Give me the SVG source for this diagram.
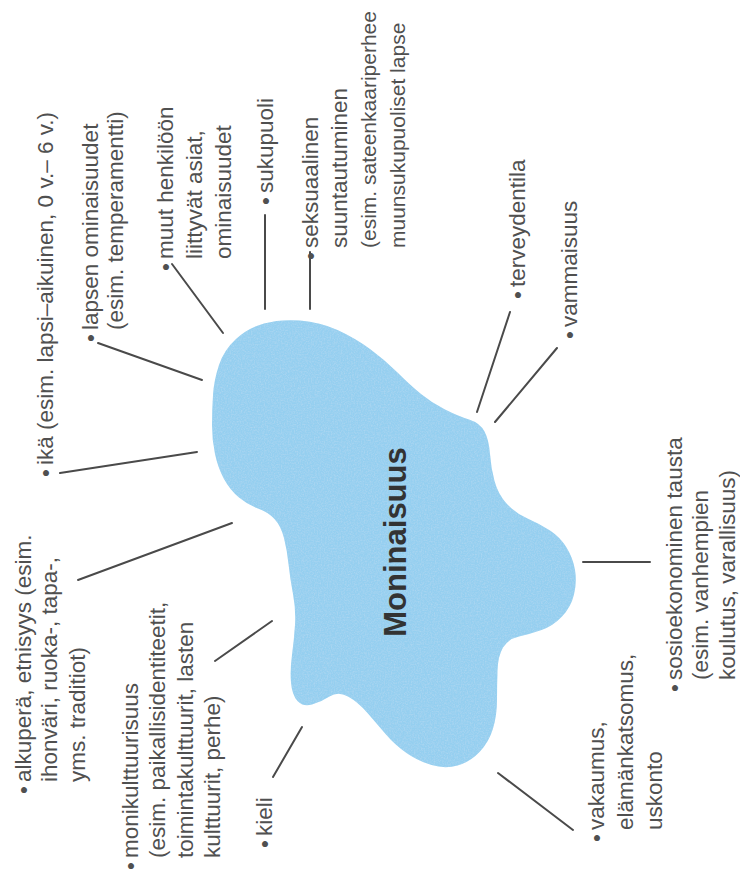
<svg xmlns="http://www.w3.org/2000/svg" width="740" height="882" viewBox="0 0 740 882">
<style>
  .t { font-family: "Liberation Sans", Arial, sans-serif; font-size: 22.5px; fill: #505050; }
  .sm { font-size: 21px; }
  .title { font-family: "Liberation Sans", Arial, sans-serif; font-size: 31px; font-weight: bold; fill: #333333; text-anchor: middle; }
  .conn line { stroke: #4a4a4a; stroke-width: 2; stroke-linecap: round; }
</style>
<defs>
  <filter id="tex" x="-5%" y="-5%" width="110%" height="110%">
    <feTurbulence type="fractalNoise" baseFrequency="0.7" numOctaves="2" seed="4" result="n"/>
    <feColorMatrix in="n" type="matrix" values="0 0 0 0 0.47  0 0 0 0 0.70  0 0 0 0 0.89  0 0 0 1.3 -0.5" result="c"/>
    <feComposite in="c" in2="SourceGraphic" operator="in" result="m"/>
    <feMerge><feMergeNode in="SourceGraphic"/><feMergeNode in="m"/></feMerge>
  </filter>
</defs>
<rect width="740" height="882" fill="#ffffff"/>

<g id="blob">
  <path filter="url(#tex)" fill="#95cff0" d="M264,323.5 Q280,319 300,320.5 Q320,322 337.5,330 Q355,338 370,349 Q385,360 397.5,372.5 Q410,385 421,394 Q432,403 445,409.5 Q458,416 469,419.5 Q480,423 484.5,431.5 Q489,440 490,454 Q491,468 494.5,481 Q498,494 506.5,503.5 Q515,513 527.5,518.5 Q540,524 550,530.5 Q560,537 566.5,547.5 Q573,558 575,570 Q577,582 574,594.5 Q571,607 562,616.5 Q553,626 541.5,630 Q530,634 519,636.5 Q508,639 503,647.5 Q498,656 497.5,670.5 Q497,685 497,700 Q497,715 493,728.5 Q489,742 479.5,752 Q470,762 457.5,765.5 Q445,769 431.5,765 Q418,761 406.5,753 Q395,745 386,734.5 Q377,724 367.5,713 Q358,702 348,696.5 Q338,691 329.5,696.5 Q321,702 312,704.5 Q303,707 297.5,701 Q292,695 291,682.5 Q290,670 292,655 Q294,640 295,625 Q296,610 293,594 Q290,578 288.5,564 Q287,550 284,538 Q281,526 274.5,519 Q268,512 258,508.5 Q248,505 239,497.5 Q230,490 224,479 Q218,468 215,454 Q212,440 212,425 Q212,410 213,395 Q214,380 219,365 Q224,350 236,339 Q248,328 264,323.5 Z"/>
  <text class="title" transform="translate(406,542) rotate(-90)">Moninaisuus</text>
</g>

<g id="connectors" class="conn">
  <line x1="60" y1="473" x2="197" y2="452"/>
  <line x1="98" y1="343" x2="202" y2="380"/>
  <line x1="172" y1="264" x2="223" y2="333"/>
  <line x1="265" y1="215" x2="265" y2="309"/>
  <line x1="310" y1="252" x2="310" y2="309"/>
  <line x1="78" y1="580" x2="232" y2="523"/>
  <line x1="215" y1="661" x2="272" y2="621"/>
  <line x1="273" y1="777" x2="302" y2="727"/>
  <line x1="498" y1="773" x2="573" y2="830"/>
  <line x1="583" y1="562" x2="650" y2="562"/>
  <line x1="510" y1="312" x2="477" y2="412"/>
  <line x1="557" y1="348" x2="495" y2="422"/>
</g>

<g id="n-ika"><text class="t" transform="translate(53,465) rotate(-90)"><tspan x="-12" y="0">•</tspan><tspan x="0" y="0">ikä (esim. lapsi–aikuinen, 0 v.– 6 v.)</tspan></text></g>
<g id="n-lapsen"><text class="t" transform="translate(98,330) rotate(-90)"><tspan x="-12" y="0">•</tspan><tspan x="0" y="0">lapsen ominaisuudet</tspan><tspan x="0" y="25">(esim. temperamentti)</tspan></text></g>
<g id="n-muut"><text class="t" transform="translate(173,259) rotate(-90)"><tspan x="-12" y="0">•</tspan><tspan x="0" y="0">muut henkilöön</tspan><tspan x="0" y="29">liittyvät asiat,</tspan><tspan x="0" y="58">ominaisuudet</tspan></text></g>
<g id="n-sukupuoli"><text class="t" transform="translate(273,193) rotate(-90)"><tspan x="-12" y="0">•</tspan><tspan x="0" y="0">sukupuoli</tspan></text></g>
<g id="n-seksuaalinen"><text class="t" transform="translate(318,248) rotate(-90)"><tspan x="-12" y="0">•</tspan><tspan x="0" y="0">seksuaalinen</tspan><tspan x="0" y="29">suuntautuminen</tspan><tspan class="sm" x="0" y="58">(esim. sateenkaariperhee</tspan><tspan class="sm" x="0" y="87">muunsukupuoliset lapse</tspan></text></g>
<g id="n-terveydentila"><text class="t" transform="translate(525,287) rotate(-90)"><tspan x="-12" y="0">•</tspan><tspan x="0" y="0">terveydentila</tspan></text></g>
<g id="n-vammaisuus"><text class="t" transform="translate(577,327) rotate(-90)"><tspan x="-12" y="0">•</tspan><tspan x="0" y="0">vammaisuus</tspan></text></g>
<g id="n-sosio"><text class="t" transform="translate(682,680) rotate(-90)"><tspan x="-12" y="0">•</tspan><tspan x="0" y="0">sosioekonominen tausta</tspan><tspan x="0" y="26">(esim. vanhempien</tspan><tspan x="0" y="53">koulutus, varallisuus)</tspan></text></g>
<g id="n-vakaumus"><text class="t" transform="translate(604,830) rotate(-90)"><tspan x="-12" y="0">•</tspan><tspan x="0" y="0">vakaumus,</tspan><tspan x="0" y="29">elämänkatsomus,</tspan><tspan x="0" y="58">uskonto</tspan></text></g>
<g id="n-alkupera"><text class="t" transform="translate(31,782) rotate(-90)"><tspan x="-12" y="0">•</tspan><tspan x="0" y="0">alkuperä, etnisyys (esim.</tspan><tspan x="0" y="26">ihonväri, ruoka-, tapa-,</tspan><tspan x="0" y="54">yms. traditiot)</tspan></text></g>
<g id="n-moni"><text class="t" transform="translate(138,858) rotate(-90)"><tspan x="-12" y="0">•</tspan><tspan x="0" y="0">monikulttuurisuus</tspan><tspan x="0" y="27">(esim. paikallisidentiteetit,</tspan><tspan x="0" y="55">toimintakulttuurit, lasten</tspan><tspan x="0" y="82">kulttuurit, perhe)</tspan></text></g>
<g id="n-kieli"><text class="t" transform="translate(272,836) rotate(-90)"><tspan x="-12" y="0">•</tspan><tspan x="0" y="0">kieli</tspan></text></g>
</svg>
